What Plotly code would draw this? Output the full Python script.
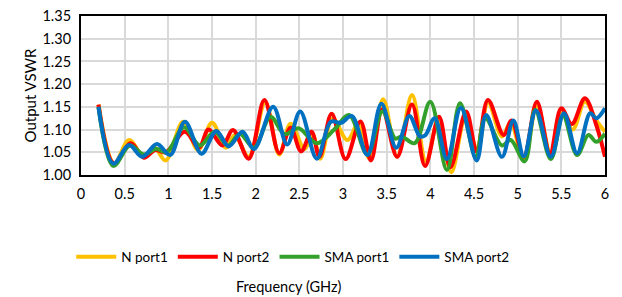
import plotly.graph_objects as go

# ---- data ----
n1_freq = [0.2,0.38,0.55,0.72,0.84,0.97,1.17,1.34,1.5,1.66,1.76,1.92,2.11,2.27,2.4,2.56,2.65,2.74,2.88,3.05,3.18,3.3,3.46,3.62,3.79,3.95,4.09,4.24,4.4,4.54,4.66,4.82,4.92,5.07,5.22,5.38,5.5,5.63,5.77,5.9,6.0]
n1_vswr = [1.155,1.025,1.077,1.04,1.06,1.032,1.117,1.055,1.115,1.06,1.088,1.04,1.16,1.045,1.113,1.057,1.09,1.036,1.125,1.077,1.115,1.037,1.167,1.04,1.176,1.03,1.12,1.006,1.125,1.055,1.16,1.085,1.115,1.032,1.152,1.045,1.14,1.1,1.162,1.12,1.095]

n2_freq = [0.2,0.38,0.57,0.72,0.85,0.97,1.19,1.35,1.46,1.62,1.74,1.92,2.1,2.27,2.4,2.52,2.64,2.73,2.87,3.03,3.2,3.32,3.45,3.62,3.79,3.94,4.1,4.23,4.41,4.53,4.66,4.84,4.93,5.07,5.22,5.37,5.5,5.62,5.77,5.9,6.0]
n2_vswr = [1.155,1.025,1.07,1.038,1.055,1.05,1.095,1.06,1.10,1.065,1.099,1.036,1.165,1.048,1.104,1.052,1.095,1.04,1.135,1.035,1.118,1.032,1.145,1.04,1.155,1.02,1.128,1.017,1.14,1.052,1.165,1.088,1.12,1.04,1.161,1.048,1.147,1.112,1.169,1.11,1.04]

sma1_freq = [0.2,0.37,0.56,0.72,0.86,0.98,1.18,1.36,1.53,1.68,1.82,1.98,2.17,2.33,2.49,2.7,2.9,3.07,3.28,3.45,3.6,3.67,3.82,4.0,4.19,4.34,4.52,4.63,4.82,4.92,5.08,5.2,5.38,5.52,5.68,5.81,5.9,6.0]
sma1_vswr = [1.15,1.02,1.065,1.045,1.058,1.05,1.105,1.065,1.095,1.065,1.09,1.06,1.128,1.09,1.103,1.07,1.10,1.132,1.045,1.14,1.08,1.085,1.07,1.161,1.011,1.158,1.04,1.125,1.065,1.077,1.03,1.143,1.035,1.13,1.044,1.088,1.073,1.091]

sma2_freq = [0.2,0.37,0.55,0.7,0.87,1.02,1.19,1.38,1.55,1.69,1.85,1.98,2.2,2.36,2.51,2.7,2.86,2.98,3.1,3.28,3.44,3.61,3.76,3.88,3.94,4.05,4.19,4.35,4.53,4.64,4.82,4.95,5.07,5.21,5.38,5.53,5.68,5.83,5.9,6.0]
sma2_vswr = [1.15,1.025,1.066,1.04,1.068,1.044,1.117,1.047,1.097,1.063,1.095,1.057,1.15,1.067,1.14,1.036,1.117,1.115,1.13,1.044,1.157,1.06,1.13,1.085,1.087,1.125,1.035,1.148,1.032,1.132,1.04,1.12,1.041,1.142,1.04,1.136,1.048,1.136,1.125,1.147]

series_names = ["N port1", "N port2", "SMA port1", "SMA port2"]
series_colors = ["#FFC000", "#FF0000", "#33A02C", "#0070C0"]
x_ticks = [0, 0.5, 1, 1.5, 2, 2.5, 3, 3.5, 4, 4.5, 5, 5.5, 6]
x_ticklabels = ["0", "0.5", "1", "1.5", "2", "2.5", "3", "3.5", "4", "4.5", "5", "5.5", "6"]
y_ticks = [1.00, 1.05, 1.10, 1.15, 1.20, 1.25, 1.30, 1.35]

FONT = "Lato"
fig = go.Figure()
for name, color, xs, ys in zip(series_names, series_colors,
                               [n1_freq, n2_freq, sma1_freq, sma2_freq],
                               [n1_vswr, n2_vswr, sma1_vswr, sma2_vswr]):
    fig.add_trace(go.Scatter(x=xs, y=ys, mode="lines", name=name,
                             line=dict(color=color, width=4, shape="spline", smoothing=1.0)))

# the page body adds an 8px offset, so the figure is shifted/sized for the window
fig.update_layout(
    width=614, height=289,
    margin=dict(l=73, r=17, t=8, b=122, autoexpand=False),
    paper_bgcolor="white", plot_bgcolor="white",
    font=dict(family=FONT, size=14.5, color="#000000"),
    showlegend=True,
    legend=dict(orientation="h", x=0.405, xanchor="center", y=-0.516, yanchor="middle",
                font=dict(family=FONT, size=13.5), itemwidth=40, tracegroupgap=0,
                bgcolor="rgba(0,0,0,0)"),
    xaxis=dict(range=[0, 6], tickvals=x_ticks, ticktext=x_ticklabels,
               showgrid=True, gridcolor="#D9D9D9", gridwidth=1.5,
               showline=True, linecolor="black", linewidth=2, mirror=True,
               ticks="outside", ticklen=5, tickcolor="rgba(0,0,0,0)",
               zeroline=False, tickfont=dict(size=14.5), ticklabeloverflow="allow"),
    yaxis=dict(range=[1.0, 1.35], tickvals=y_ticks, tickformat=".2f",
               showgrid=True, gridcolor="#D9D9D9", gridwidth=1.5,
               showline=True, linecolor="black", linewidth=2, mirror=True,
               ticks="outside", ticklen=5, tickcolor="rgba(0,0,0,0)",
               zeroline=False, tickfont=dict(size=14.5), ticklabeloverflow="allow",
               title=dict(text="Output VSWR", font=dict(size=15), standoff=2)),
    annotations=[dict(text="Frequency (GHz)", xref="paper", yref="paper",
                      x=0.397, y=-0.704, xanchor="center", yanchor="middle",
                      showarrow=False, font=dict(family=FONT, size=14.5))],
)

fig.write_html("out.html")
